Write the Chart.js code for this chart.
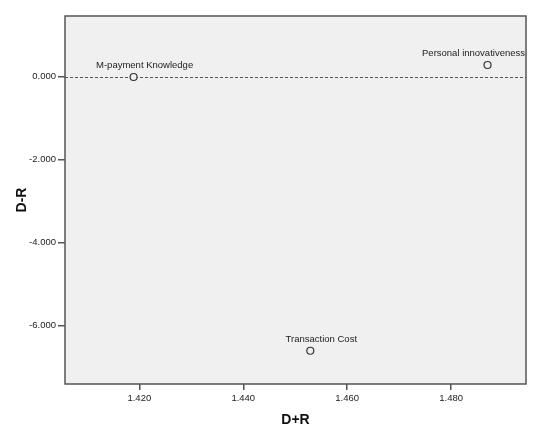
<!DOCTYPE html>
<html>
<head>
<meta charset="utf-8">
<script src="https://cdn.jsdelivr.net/npm/chart.js@4"></script>
<style>
  html, body { margin: 0; padding: 0; background: #fff; }
  #wrap { width: 550px; height: 436px; }
</style>
</head>
<body>
<div id="wrap"><canvas id="chart" width="550" height="436"></canvas></div>
<script>
// factors and their (D+R, D-R) coordinates
const factorNames = ['M-payment Knowledge', 'Personal innovativeness', 'Transaction Cost'];
const dPlusR = [1.4189, 1.4870, 1.4529];
const dMinusR = [-0.007, 0.282, -6.614];

const xTicks = [1.420, 1.440, 1.460, 1.480];
const yTicks = [0.000, -2.000, -4.000, -6.000];

const FONT = 'Arial, "Liberation Sans", sans-serif';

// grey plot background + box border
const plotFrame = {
    id: 'plotFrame',
    beforeDraw(chart) {
        const {ctx, chartArea: a} = chart;
        ctx.save();
        ctx.fillStyle = '#f0f0f0';
        ctx.fillRect(a.left, a.top, a.right - a.left, a.bottom - a.top);
        ctx.restore();
    },
    beforeDatasetsDraw(chart) {
        // reference line at D-R = 0
        const {ctx, chartArea: a, scales} = chart;
        const y = Math.round(scales.y.getPixelForValue(0)) + 0.5;
        ctx.save();
        ctx.strokeStyle = '#555';
        ctx.lineWidth = 1;
        ctx.setLineDash([3, 2]);
        ctx.beginPath();
        ctx.moveTo(a.left, y);
        ctx.lineTo(a.right, y);
        ctx.stroke();
        ctx.restore();
    },
    afterDraw(chart) {
        const {ctx, chartArea: a} = chart;
        ctx.save();
        ctx.strokeStyle = '#555';
        ctx.lineWidth = 1.5;
        ctx.strokeRect(a.left, a.top, a.right - a.left, a.bottom - a.top);
        ctx.restore();
    }
};

// point labels, shifted right and kept inside the plot
const pointLabels = {
    id: 'pointLabels',
    afterDatasetsDraw(chart) {
        const {ctx, chartArea: a} = chart;
        const meta = chart.getDatasetMeta(0);
        ctx.save();
        ctx.font = '9.5px ' + FONT;
        ctx.fillStyle = '#222';
        ctx.textBaseline = 'middle';
        ctx.textAlign = 'center';
        meta.data.forEach((pt, i) => {
            const text = factorNames[i];
            const w = ctx.measureText(text).width;
            let cx = pt.x + 11;
            if (cx + w / 2 > a.right - 1) cx = a.right - 1 - w / 2;
            ctx.fillText(text, cx, pt.y - 11.5);
        });
        ctx.restore();
    }
};

const config = {
    type: 'scatter',
    data: {
        datasets: [{
            data: dPlusR.map((x, i) => ({x: x, y: dMinusR[i]})),
            pointStyle: 'circle',
            pointRadius: 3.5,
            pointHoverRadius: 3.5,
            borderColor: '#333',
            borderWidth: 1.2,
            backgroundColor: '#f0f0f0'
        }]
    },
    options: {
        responsive: false,
        animation: false,
        layout: { padding: { left: 0, top: 16, right: 24, bottom: 0 } },
        plugins: {
            legend: { display: false },
            tooltip: { enabled: false }
        },
        scales: {
            x: {
                type: 'linear',
                min: 1.4057,
                max: 1.4944,
                afterBuildTicks(scale) { scale.ticks = xTicks.map(v => ({value: v})); },
                afterFit(scale) { scale.height = 52; },
                ticks: {
                    callback: v => v.toFixed(3),
                    color: '#222',
                    font: { family: FONT, size: 9.5 },
                    padding: 3,
                    maxRotation: 0
                },
                grid: { drawOnChartArea: false, drawTicks: true, tickLength: 6, color: '#555', lineWidth: 1.5 },
                border: { display: false },
                title: {
                    display: true,
                    text: 'D+R',
                    color: '#111',
                    font: { family: FONT, size: 14, weight: 'bold' },
                    padding: { top: 7, bottom: 7 }
                }
            },
            y: {
                type: 'linear',
                min: -7.417,
                max: 1.465,
                afterBuildTicks(scale) { scale.ticks = yTicks.map(v => ({value: v})); },
                afterFit(scale) { scale.width = 65; },
                ticks: {
                    callback: v => v.toFixed(3),
                    color: '#222',
                    font: { family: FONT, size: 9.5 },
                    padding: 2
                },
                grid: { drawOnChartArea: false, drawTicks: true, tickLength: 7, color: '#555', lineWidth: 1.5 },
                border: { display: false },
                title: {
                    display: true,
                    text: 'D-R',
                    color: '#111',
                    font: { family: FONT, size: 14, weight: 'bold' },
                    padding: { top: 14, bottom: 4 }
                }
            }
        }
    },
    plugins: [plotFrame, pointLabels]
};

new Chart(document.getElementById('chart'), config);
</script>
</body>
</html>
